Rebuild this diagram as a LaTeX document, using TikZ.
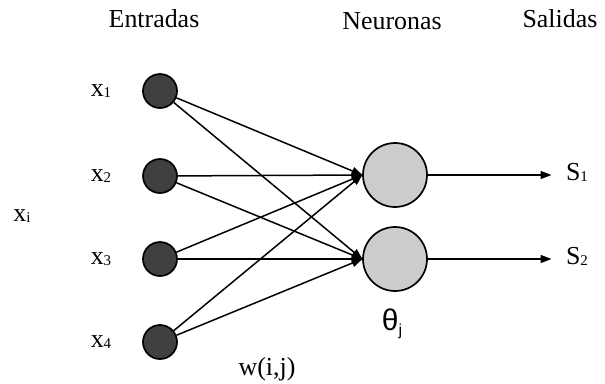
\documentclass[tikz,border=0pt]{standalone}
\usepackage{fontspec}
\setmainfont{Liberation Serif}
\newfontfamily\greekfont{Liberation Sans}
\usetikzlibrary{arrows.meta}

% small index set beside its symbol
\newcommand{\idx}[1]{\raisebox{-1bp}{\fontsize{15}{15}\selectfont #1}}

\begin{document}
\begin{tikzpicture}[x=1bp,y=-1bp,
  every node/.style={font=\fontsize{26}{30}\selectfont},
  inputnode/.style={circle,draw,line width=1.7bp,fill=black!75,minimum size=34bp,inner sep=0pt},
  neuron/.style={circle,draw,line width=1.7bp,fill=black!20,minimum size=64bp,inner sep=0pt},
  link/.style={line width=1.5bp,-{Triangle[length=11bp,width=8bp]},shorten >=-0.5bp},
  lbl/.style={inner sep=0pt,anchor=base}]
  \useasboundingbox (0,0) rectangle (605,383);

  % column titles
  \node[lbl] (tin)  at (154,27) {Entradas};
  \node[lbl] (tneu) at (392,29) {Neuronas};
  \node[lbl] (tout) at (560,27) {Salidas};

  % input units
  \node[inputnode] (i1) at (160,91)  {};
  \node[inputnode] (i2) at (160,176) {};
  \node[inputnode] (i3) at (160,259) {};
  \node[inputnode] (i4) at (160,342) {};

  % neurons
  \node[neuron] (n1) at (395,175) {};
  \node[neuron] (n2) at (395,259) {};

  % output ends
  \coordinate (o1) at (551,175);
  \coordinate (o2) at (551,259);

  % input labels
  \node[lbl] (l1) at (101,96)  {x\idx{1}};
  \node[lbl] (l2) at (101,181) {x\idx{2}};
  \node[lbl] (l3) at (101,264) {x\idx{3}};
  \node[lbl] (l4) at (101,347) {x\idx{4}};
  \node[lbl] (li) at (22,221)  {x\idx{i}};

  % output labels
  \node[lbl] (s1) at (577,180) {S\idx{1}};
  \node[lbl] (s2) at (577,264) {S\idx{2}};

  % threshold and weight labels
  \node[lbl] (th) at (392,330) {\fontsize{30}{30}\greekfont θ\raisebox{-5bp}{\fontsize{16}{16}\selectfont j}};
  \node[lbl] (w)  at (267,375) {w(i,j)};

  % connections
  \foreach \i in {1,...,4}{
    \draw[link] (i\i) -- (n1.west);
    \draw[link] (i\i) -- (n2.west);
  }
  \draw[link] (n1) -- (o1);
  \draw[link] (n2) -- (o2);
\end{tikzpicture}
\end{document}
